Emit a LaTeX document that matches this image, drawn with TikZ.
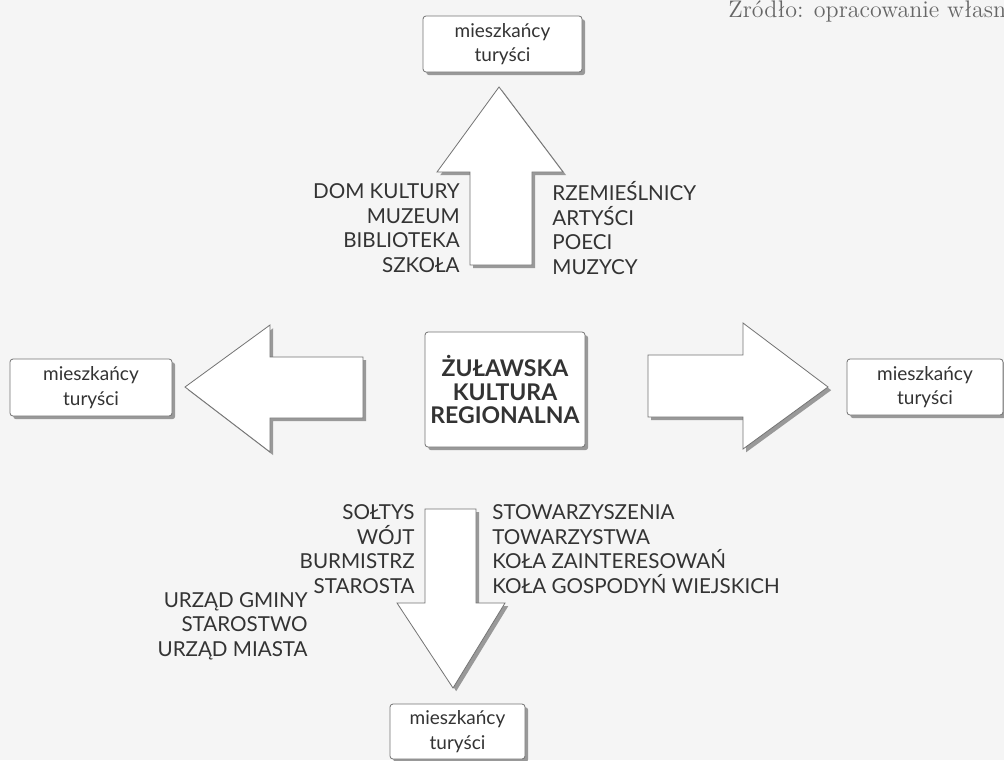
\documentclass[tikz,border=0pt]{standalone}
\usepackage{fontspec}
\newfontfamily\gillfont{Lato}
\usetikzlibrary{shadows}

\tikzset{
  mytext/.style={font=\gillfont\fontsize{9.5}{12.25}\selectfont, text=black!80, inner sep=0pt},
  mylabel/.style={mytext, font=\gillfont\fontsize{10.3}{12.25}\selectfont},
  mybox/.style={mytext, draw=black!55, fill=white, line width=0.4pt, rounded corners=1.5pt,
    align=center, drop shadow={shadow xshift=1.6pt, shadow yshift=-1.6pt, fill=black!40, opacity=1}},
  bigarrow/.style={draw=black!55, fill=white, line width=0.4pt,
    drop shadow={shadow xshift=1.6pt, shadow yshift=-1.6pt, fill=black!40, opacity=1}},
}

\begin{document}
\begin{tikzpicture}[x=0.5pt,y=-0.5pt]
	\fill[black!4] (0,0) rectangle (1004,760);
	\useasboundingbox (0,0) rectangle (1004,760);

	% odbiorcy
	\node[mybox, minimum width=79.5pt, minimum height=28pt] (gora) at (502.5,44) {mieszkańcy\\turyści};
	\node[mybox, minimum width=81pt, minimum height=28.5pt] (lewo) at (91,387.5) {mieszkańcy\\turyści};
	\node[mybox, minimum width=78pt, minimum height=28pt] (prawo) at (925,387) {mieszkańcy\\turyści};
	\node[mybox, minimum width=67.5pt, minimum height=27.5pt] (dol) at (457.5,731.5) {mieszkańcy\\turyści};

	% kultura
	\node[mybox, minimum width=80pt, minimum height=57.5pt,
		font=\gillfont\bfseries\fontsize{11.5}{11.75}\selectfont] (kultura) at (505,389.5)
		{ŻUŁAWSKA\\KULTURA\\REGIONALNA};

	% strzalki
	\draw[bigarrow] (470,265) -- (470,172) -- (437,172) -- (499,87) -- (563,172) -- (532,172) -- (532,265) -- cycle;
	\draw[bigarrow] (363,357) -- (270,357) -- (270,325) -- (185,387) -- (270,452) -- (270,418) -- (363,418) -- cycle;
	\draw[bigarrow] (648,355) -- (743,355) -- (743,323) -- (828,387) -- (743,449) -- (743,417) -- (648,417) -- cycle;
	\draw[bigarrow] (425,509) -- (476,509) -- (476,603) -- (505,603) -- (453,688) -- (397,603) -- (425,603) -- cycle;

	% podmioty
	\node[mylabel, anchor=east, align=right] (instytucje) at (460,228) {DOM KULTURY\\MUZEUM\\BIBLIOTEKA\\SZKOŁA};
	\node[mylabel, anchor=west, align=left] (tworcy) at (552,228) {RZEMIEŚLNICY\\ARTYŚCI\\POECI\\MUZYCY};
	\node[mylabel, anchor=east, align=right] (wladze) at (415,549) {SOŁTYS\\WÓJT\\BURMISTRZ\\STAROSTA};
	\node[mylabel, anchor=west, align=left] (organizacje) at (492,549) {STOWARZYSZENIA\\TOWARZYSTWA\\KOŁA ZAINTERESOWAŃ\\KOŁA GOSPODYŃ WIEJSKICH};
	\node[mylabel, anchor=east, align=right] (urzedy) at (308,626) {URZĄD GMINY\\STAROSTWO\\URZĄD MIASTA};

	\node[anchor=base west, inner sep=0pt, text=black!60, font=\fontsize{12}{14}\selectfont] (zrodlo) at (728,18) {Źródło: opracowanie własn};
\end{tikzpicture}
\end{document}
